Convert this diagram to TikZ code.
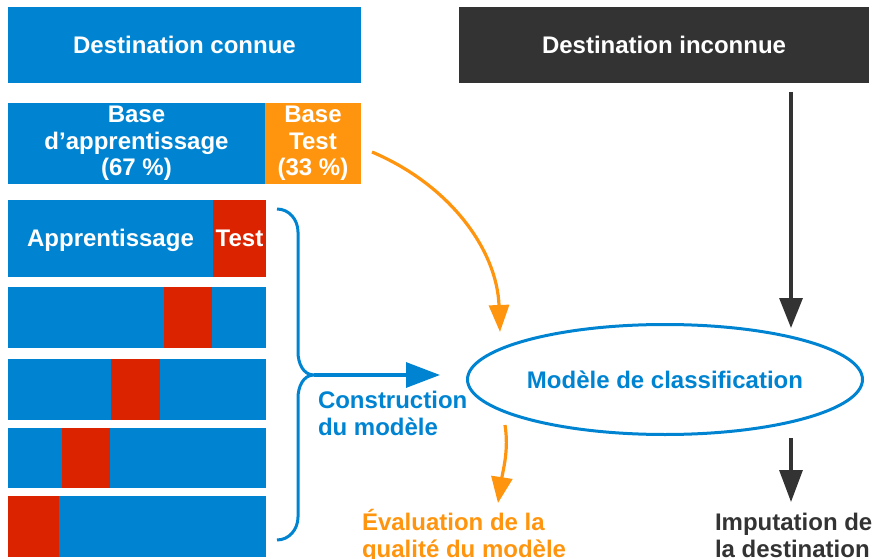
\documentclass[tikz,border=0pt]{standalone}
\usepackage{fontspec}
\setmainfont{Liberation Sans}
\usetikzlibrary{arrows.meta,shapes.geometric}
\definecolor{cblue}{HTML}{0084D1}
\definecolor{corange}{HTML}{FF950E}
\definecolor{cred}{HTML}{DC2300}
\definecolor{cdark}{HTML}{333333}
\begin{document}
\begin{tikzpicture}[x=1pt,y=-1pt,
  every node/.style={font=\fontsize{24}{26.5}\selectfont\bfseries, inner sep=0pt, outer sep=0pt},
  bluebox/.style={fill=cblue, text=white, align=center},
  orangebox/.style={fill=corange, text=white, align=center},
  redbox/.style={fill=cred, text=white},
  darkbox/.style={fill=cdark, text=white},
  label/.style={anchor=base west, align=left},
  link/.style={line width=3.2pt},
]
\useasboundingbox (0,0) rectangle (873,559);

% header boxes
\node[bluebox, minimum width=353pt, minimum height=76pt] (known) at (184.5,45) {Destination connue};
\node[darkbox, minimum width=410pt, minimum height=76pt] (unknown) at (664,45) {Destination inconnue};

% 67 / 33 split
\node[bluebox, minimum width=257pt, minimum height=80pt] (train) at (136.5,143.5) {Base\\d’apprentissage\\(67 \%)};
\node[orangebox, minimum width=96pt, minimum height=80pt] (test) at (313,143.5) {Base\\Test\\(33 \%)};

% cross-validation folds
\node[bluebox, minimum width=258pt, minimum height=77pt] (f1) at (137,238.5) {};
\node[redbox, minimum width=53pt, minimum height=77pt] (t1) at (239.5,238.5) {};
\node[text=white, anchor=base] at (110.5,246) {Apprentissage};
\node[text=white, anchor=base] at (239.5,246) {Test};

\node[bluebox, minimum width=258pt, minimum height=61pt] (f2) at (137,317.5) {};
\node[redbox, minimum width=48pt, minimum height=61pt] (t2) at (188,317.5) {};
\node[bluebox, minimum width=258pt, minimum height=61pt] (f3) at (137,389.5) {};
\node[redbox, minimum width=49pt, minimum height=61pt] (t3) at (135.5,389.5) {};
\node[bluebox, minimum width=258pt, minimum height=60pt] (f4) at (137,458) {};
\node[redbox, minimum width=48pt, minimum height=60pt] (t4) at (86,458) {};
\node[bluebox, minimum width=258pt, minimum height=61pt] (f5) at (137,526.5) {};
\node[redbox, minimum width=51pt, minimum height=61pt] (t5) at (33.5,526.5) {};

% classifier
\node[ellipse, draw=cblue, line width=3pt, minimum width=395pt, minimum height=110pt, text=cblue] (model) at (665,379.5) {Modèle de classification};

% brace gathering the folds
\coordinate (cusp) at (314,375);
\draw[cblue, line width=3pt, line join=round]
  (277,209) to[out=0,in=90] (298,232) -- (298,352) to[out=270,in=180] (cusp)
  to[out=180,in=90] (298,398) -- (298,517) to[out=270,in=0] (277,540);
\coordinate (buildtip) at (440,375);
\draw[link, cblue, -{Triangle[length=34pt,width=25pt]}] (cusp) -- (buildtip);
\node[label, text=cblue] at (318,435) {Construction\\du modèle};

% test set to classifier
\coordinate (testout) at (372,152);
\coordinate (testin) at (500,332);
\draw[link, corange, -{Triangle[length=27pt,width=20pt]}] (testout) .. controls (450,185) and (497,250) .. (testin);

% evaluation
\coordinate (evalout) at (505,425);
\coordinate (evalin) at (498,503);
\draw[link, corange, -{Triangle[length=26pt,width=21pt]}] (evalout) .. controls (509,450) and (503,470) .. (evalin);
\node[label, text=corange] at (362,557) {Évaluation de la\\qualité du modèle};

% unknown destination
\coordinate (unkout) at (791,92);
\coordinate (unkin) at (791,328);
\draw[link, cdark, -{Triangle[length=30pt,width=23pt]}] (unkout) -- (unkin);
\coordinate (impout) at (791,438);
\coordinate (impin) at (791,502);
\draw[link, cdark, -{Triangle[length=32pt,width=23pt]}] (impout) -- (impin);
\node[label, text=cdark] at (715,557) {Imputation de\\la destination};
\end{tikzpicture}
\end{document}
